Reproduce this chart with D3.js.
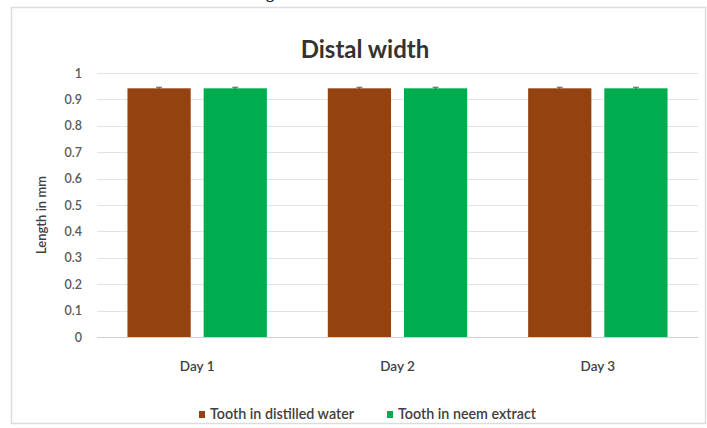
<!DOCTYPE html>
<html>
<head>
<meta charset="utf-8">
<script src="https://cdn.jsdelivr.net/npm/d3@7"></script>
<style>
  html, body { margin: 0; padding: 0; background: #fff; }
  svg { display: block; }
  text { font-family: Lato, "Open Sans", sans-serif; }
</style>
</head>
<body>
<svg id="chart" width="707" height="428"></svg>
<script>
// Distal width measurements (mm) by day
const days = ["Day 1", "Day 2", "Day 3"];
const seriesNames = ["Tooth in distilled water", "Tooth in neem extract"];
const distilledWater = [0.942, 0.942, 0.942];
const neemExtract = [0.942, 0.942, 0.942];
const distilledErr = [0.004, 0.004, 0.004];
const neemErr = [0.004, 0.004, 0.004];
const yTicks = [0, 0.1, 0.2, 0.3, 0.4, 0.5, 0.6, 0.7, 0.8, 0.9, 1];
const colors = ["#944210", "#00AD4E"];

const seriesValues = [distilledWater, neemExtract];
const seriesErrors = [distilledErr, neemErr];

const svg = d3.select("#chart");
const W = 707, H = 428;
const margin = { left: 97, right: 9, top: 73, bottom: 91 };

// caption fragment from the page above the chart
svg.append("text")
  .attr("x", 266).attr("y", -2)
  .style("font-family", "'Liberation Serif', serif")
  .style("font-weight", "bold").style("font-size", "16px")
  .attr("fill", "#222").text("g");

// chart frame
svg.append("rect")
  .attr("x", 11.5).attr("y", 7.5)
  .attr("width", 694).attr("height", 416)
  .attr("fill", "#fff").attr("stroke", "#dcdcdc").attr("stroke-width", 1.5);

const x0 = d3.scaleBand().domain(days)
  .range([margin.left, W - margin.right]).paddingInner(0).paddingOuter(0);
const x1 = d3.scaleBand().domain(seriesNames)
  .range([0, x0.bandwidth()]).paddingInner(0.17).paddingOuter(0.4);
const y = d3.scaleLinear().domain([0, 1]).range([H - margin.bottom, margin.top]);

// gridlines
svg.append("g").selectAll("line").data(yTicks).join("line")
  .attr("x1", margin.left).attr("x2", W - margin.right)
  .attr("y1", d => Math.round(y(d)) + 0.5).attr("y2", d => Math.round(y(d)) + 0.5)
  .attr("stroke", d => d === 0 ? "#d0d0d0" : "#e3e3e3").attr("stroke-width", 1);

// y axis labels
const yAxis = d3.axisLeft(y).tickValues(yTicks).tickSize(0).tickPadding(0)
  .tickFormat(d => d3.format("")(+d.toFixed(1)));
const ya = svg.append("g").attr("transform", `translate(${margin.left - 15},0)`).call(yAxis);
ya.select(".domain").remove();
ya.selectAll("text").style("font-size", "12.5px").style("font-family", "Lato, sans-serif")
  .style("font-weight", "600").attr("fill", "#595959");

// y axis title
svg.append("text")
  .attr("transform", `translate(46,${(y(0) + y(1)) / 2 + 10}) rotate(-90)`)
  .attr("text-anchor", "middle").style("font-size", "13px").style("font-weight", "600")
  .attr("fill", "#404040")
  .text("Length in mm");

// bars
const groups = svg.append("g").selectAll("g").data(days).join("g")
  .attr("transform", d => `translate(${x0(d)},0)`);
groups.selectAll("rect")
  .data((d, i) => seriesNames.map((s, k) => ({ s, k, v: seriesValues[k][i], e: seriesErrors[k][i] })))
  .join("rect")
  .attr("x", d => x1(d.s)).attr("width", x1.bandwidth())
  .attr("y", d => y(d.v)).attr("height", d => y(0) - y(d.v))
  .attr("fill", d => colors[d.k]);

// error bars
const eb = groups.selectAll("g.err")
  .data((d, i) => seriesNames.map((s, k) => ({ s, k, v: seriesValues[k][i], e: seriesErrors[k][i] })))
  .join("g").attr("class", "err");
eb.append("line")
  .attr("x1", d => x1(d.s) + x1.bandwidth() / 2).attr("x2", d => x1(d.s) + x1.bandwidth() / 2)
  .attr("y1", d => y(d.v - d.e)).attr("y2", d => y(d.v + d.e))
  .attr("stroke", "#555").attr("stroke-width", 1);
eb.append("line")
  .attr("x1", d => x1(d.s) + x1.bandwidth() / 2 - 3).attr("x2", d => x1(d.s) + x1.bandwidth() / 2 + 3)
  .attr("y1", d => y(d.v + d.e)).attr("y2", d => y(d.v + d.e))
  .attr("stroke", "#555").attr("stroke-width", 1);

// x axis labels
const xAxis = d3.axisBottom(x0).tickSize(0).tickPadding(0);
const xa = svg.append("g").attr("transform", `translate(0,${y(0) + 24})`).call(xAxis);
xa.select(".domain").remove();
xa.selectAll("text").style("font-size", "13.5px").style("font-family", "Lato, sans-serif")
  .style("font-weight", "600").attr("fill", "#404040");

// title
svg.append("text")
  .attr("x", 365).attr("y", 58).attr("text-anchor", "middle")
  .style("font-size", "24px").style("font-weight", "bold").attr("fill", "#333")
  .text("Distal width");

// legend
const legendX = [202, 390];
const lg = svg.append("g").selectAll("g").data(seriesNames).join("g")
  .attr("transform", (d, i) => `translate(${legendX[i]},419)`);
lg.append("rect").attr("x", -3).attr("y", -8).attr("width", 6).attr("height", 7)
  .attr("fill", (d, i) => colors[i]);
lg.append("text").attr("x", 8).attr("y", 0)
  .style("font-size", "14.3px").style("font-weight", "600").attr("fill", "#404040").text(d => d);
</script>
</body>
</html>
